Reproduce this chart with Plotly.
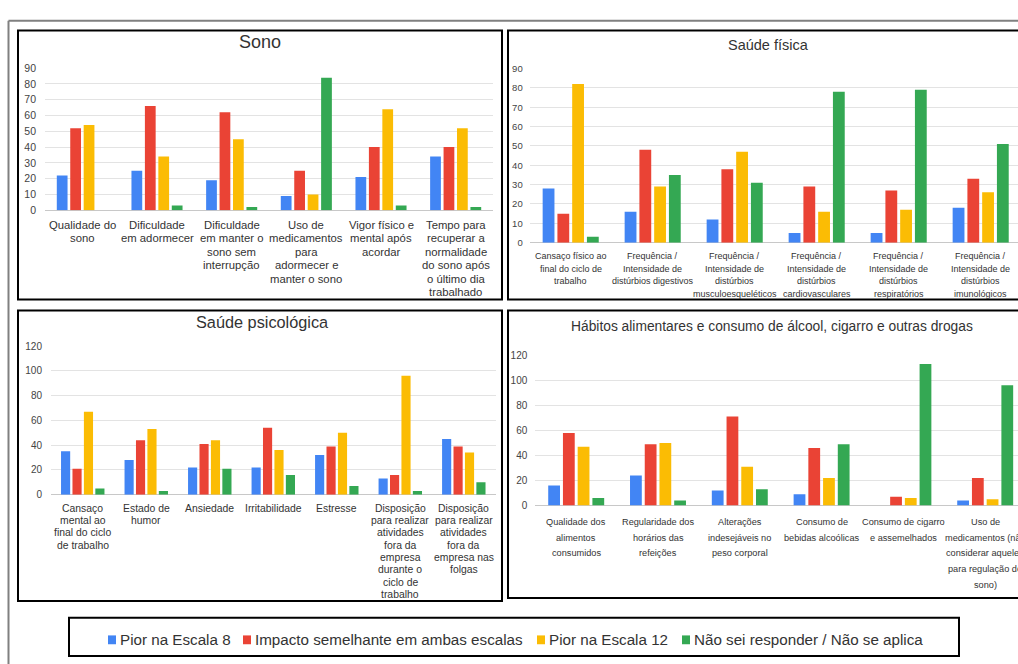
import plotly.graph_objects as go

# ---------------------------------------------------------------- data
SERIES = [
    "Pior na Escala 8",
    "Impacto semelhante em ambas escalas",
    "Pior na Escala 12",
    "Não sei responder / Não se aplica",
]
COLORS = ["#4285F4", "#EA4335", "#FBBC04", "#34A853"]

sono_cats = [
    "Qualidade do\nsono",
    "Dificuldade\nem adormecer",
    "Dificuldade\nem manter o\nsono sem\ninterrupção",
    "Uso de\nmedicamentos\npara\nadormecer e\nmanter o sono",
    "Vigor físico e\nmental após\nacordar",
    "Tempo para\nrecuperar a\nnormalidade\ndo sono após\no último dia\ntrabalhado",
]
sono_pior8 = [22, 25, 19, 9, 21, 34]
sono_impacto = [52, 66, 62, 25, 40, 40]
sono_pior12 = [54, 34, 45, 10, 64, 52]
sono_nsr = [0, 3, 2, 84, 3, 2]

fisica_cats = [
    "Cansaço físico ao\nfinal do ciclo de\ntrabalho",
    "Frequência /\nIntensidade de\ndistúrbios digestivos",
    "Frequência /\nIntensidade de\ndistúrbios\nmusculoesqueléticos",
    "Frequência /\nIntensidade de\ndistúrbios\ncardiovasculares",
    "Frequência /\nIntensidade de\ndistúrbios\nrespiratórios",
    "Frequência /\nIntensidade de\ndistúrbios\nimunológicos",
]
fisica_pior8 = [28, 16, 12, 5, 5, 18]
fisica_impacto = [15, 48, 38, 29, 27, 33]
fisica_pior12 = [82, 29, 47, 16, 17, 26]
fisica_nsr = [3, 35, 31, 78, 79, 51]

psico_cats = [
    "Cansaço\nmental ao\nfinal do ciclo\nde trabalho",
    "Estado de\nhumor",
    "Ansiedade",
    "Irritabilidade",
    "Estresse",
    "Disposição\npara realizar\natividades\nfora da\nempresa\ndurante o\nciclo de\ntrabalho",
    "Disposição\npara realizar\natividades\nfora da\nempresa nas\nfolgas",
]
psico_pior8 = [35, 28, 22, 22, 32, 13, 45]
psico_impacto = [21, 44, 41, 54, 39, 16, 39]
psico_pior12 = [67, 53, 44, 36, 50, 96, 34]
psico_nsr = [5, 3, 21, 16, 7, 3, 10]

habitos_cats = [
    "Qualidade dos\nalimentos\nconsumidos",
    "Regularidade dos\nhorários das\nrefeições",
    "Alterações\nindesejáveis no\npeso corporal",
    "Consumo de\nbebidas alcoólicas",
    "Consumo de cigarro\ne assemelhados",
    "Uso de\nmedicamentos (não\nconsiderar aqueles\npara regulação do\nsono)",
]
habitos_pior8 = [16, 24, 12, 9, 0, 4]
habitos_impacto = [58, 49, 71, 46, 7, 22]
habitos_pior12 = [47, 50, 31, 22, 6, 5]
habitos_nsr = [6, 4, 13, 49, 113, 96]

# ---------------------------------------------------------------- layout helpers
W, H = 1018, 664
SANS = "Liberation Sans, Arial, sans-serif"


def px(x):
    return x / W


def py(y):
    return 1 - y / H


panels = [
    dict(
        title="Sono", cats=sono_cats,
        values=[sono_pior8, sono_impacto, sono_pior12, sono_nsr],
        xdom=(45, 493), ydom=(208, 63.3), xr=None, yr=(0, 90), dtick=10,
        tick_size=10.5, cat_size=11.3, cat_first=14.7, cat_step=13.5,
        title_xy=(260, 37), title_size=18, standoff=8,
    ),
    dict(
        title="Saúde física", cats=fisica_cats,
        values=[fisica_pior8, fisica_impacto, fisica_pior12, fisica_nsr],
        xdom=(529.7, 1018), ydom=(241, 63.7), xr=(-0.5, 5.455), yr=(0, 90), dtick=10,
        tick_size=9.5, cat_size=9, cat_first=13.3, cat_step=12.7,
        title_xy=(768, 40), title_size=14.5, standoff=6,
    ),
    dict(
        title="Saúde psicológica", cats=psico_cats,
        values=[psico_pior8, psico_impacto, psico_pior12, psico_nsr],
        xdom=(51, 495.8), ydom=(497.7, 346.3), xr=None, yr=(0, 120), dtick=20,
        tick_size=10, cat_size=10.4, cat_first=13.3, cat_step=12.35,
        title_xy=(262, 322), title_size=16.3, standoff=8,
    ),
    dict(
        title="Hábitos alimentares e consumo de álcool, cigarro e outras drogas",
        cats=habitos_cats,
        values=[habitos_pior8, habitos_impacto, habitos_pior12, habitos_nsr],
        xdom=(535.3, 1018), ydom=(508.7, 355.7), xr=(-0.5, 5.401), yr=(0, 120), dtick=20,
        tick_size=10, cat_size=9.2, cat_first=16.3, cat_step=15.7,
        title_xy=(772, 326), title_size=13.8, standoff=7,
    ),
]

fig = go.Figure()
annotations = []
layout_axes = {}

for k, p in enumerate(panels, start=1):
    xa = "x" if k == 1 else f"x{k}"
    ya = "y" if k == 1 else f"y{k}"
    labels = [c.replace("\n", " ") for c in p["cats"]]
    for name, color, vals in zip(SERIES, COLORS, p["values"]):
        fig.add_trace(go.Bar(
            x=labels, y=vals, name=name, marker=dict(color=color, line=dict(width=0)),
            xaxis=xa, yaxis=ya, showlegend=False,
        ))

    xkey = "xaxis" if k == 1 else f"xaxis{k}"
    ykey = "yaxis" if k == 1 else f"yaxis{k}"
    xaxis = dict(
        domain=[px(p["xdom"][0]), px(p["xdom"][1])], anchor=ya,
        showticklabels=False, showgrid=False, showline=False, zeroline=False,
        ticks="", type="category",
    )
    if p["xr"]:
        xaxis["range"] = list(p["xr"])
    layout_axes[xkey] = xaxis
    layout_axes[ykey] = dict(
        domain=[py(p["ydom"][0]), py(p["ydom"][1])], anchor=xa,
        range=list(p["yr"]), dtick=p["dtick"], tick0=0,
        showgrid=True, gridcolor="#e3e3e3", gridwidth=1,
        zeroline=True, zerolinecolor="#c8c8c8", zerolinewidth=1,
        showline=False, ticks="",
        tickfont=dict(family=SANS, size=p["tick_size"], color="#444"),
        ticklabelstandoff=p["standoff"],
    )

    # multi-line category labels under each group
    for lab, cat in zip(labels, p["cats"]):
        for j, line in enumerate(cat.split("\n")):
            annotations.append(dict(
                x=lab, y=0, xref=xa, yref=ya, text=line, showarrow=False,
                xanchor="center", yanchor="middle",
                yshift=-(p["cat_first"] + j * p["cat_step"]),
                font=dict(family=SANS, size=p["cat_size"], color="#333"),
            ))

    # panel title
    tx, ty = p["title_xy"]
    annotations.append(dict(
        x=px(tx), y=py(ty), xref="paper", yref="paper", text=p["title"],
        showarrow=False, xanchor="center", yanchor="middle",
        font=dict(family=SANS, size=p["title_size"], color="#333"),
    ))

# ---------------------------------------------------------------- frames
shapes = []


def box(x0, y0, x1, y1, color="#000", width=2):
    shapes.append(dict(
        type="rect", xref="paper", yref="paper",
        x0=px(x0), x1=px(x1), y0=py(y1), y1=py(y0),
        line=dict(color=color, width=width), fillcolor="rgba(0,0,0,0)",
    ))


# outer sheet frame
shapes.append(dict(type="line", xref="paper", yref="paper",
                   x0=px(8.5), x1=px(8.5), y0=py(15), y1=py(670),
                   line=dict(color="#808080", width=2)))
shapes.append(dict(type="line", xref="paper", yref="paper",
                   x0=px(8.5), x1=px(1030), y0=py(15), y1=py(15),
                   line=dict(color="#808080", width=2)))

box(18, 25, 502, 299)
box(508, 25, 1040, 299)
box(18, 310, 502, 606)
box(508, 310, 1040, 603)
box(69, 623, 959, 662)

# ---------------------------------------------------------------- legend
legend_x = [108, 243, 537, 682]
legend_y = 645.5
for xpos, name, color in zip(legend_x, SERIES, COLORS):
    shapes.append(dict(
        type="rect", xref="paper", yref="paper",
        x0=px(xpos), x1=px(xpos + 8), y0=py(legend_y + 4.5), y1=py(legend_y - 4.5),
        line=dict(width=0), fillcolor=color,
    ))
    annotations.append(dict(
        x=px(xpos + 10), y=py(legend_y), xref="paper", yref="paper", text=name,
        showarrow=False, xanchor="left", yanchor="middle",
        font=dict(family=SANS, size=15.2, color="#333"),
    ))

fig.update_layout(
    width=W, height=H,
    margin=dict(l=0, r=0, t=0, b=0),
    paper_bgcolor="white", plot_bgcolor="white",
    barmode="group", bargap=0.28, bargroupgap=0.2,
    annotations=annotations, shapes=shapes,
    **layout_axes,
)

fig.write_html("out.html")
